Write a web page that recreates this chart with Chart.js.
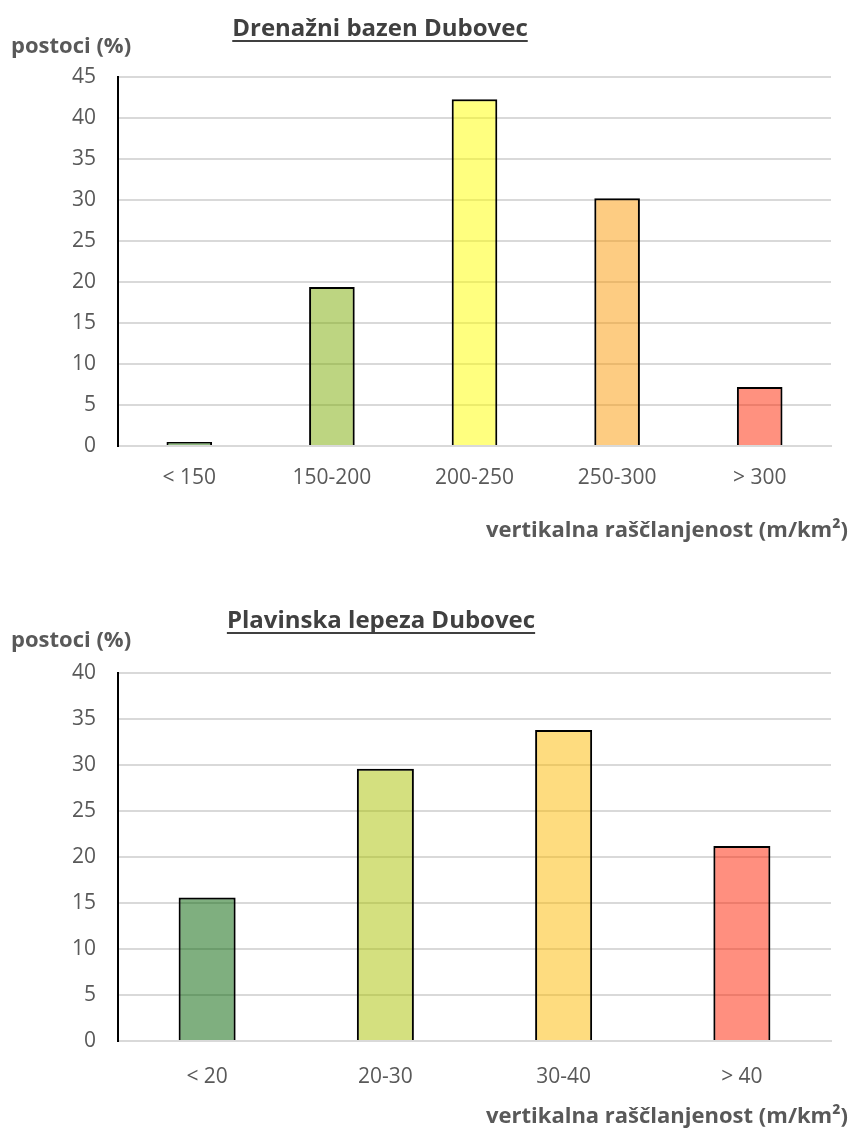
<!DOCTYPE html>
<html><head><meta charset="utf-8">
<script src="https://cdn.jsdelivr.net/npm/chart.js@4/dist/chart.umd.min.js"></script>
<style>
html,body{margin:0;padding:0;background:#fff;}
body{width:854px;height:1133px;position:relative;overflow:hidden;}
canvas{position:absolute;left:0;}
</style></head><body>
<canvas id="c1" width="854" height="570" style="top:0"></canvas>
<canvas id="c2" width="854" height="563" style="top:570px"></canvas>
<script>
// ---- data ----
const topTitle = 'Drenažni bazen Dubovec';
const topCategories = ['< 150', '150-200', '200-250', '250-300', '> 300'];
const topValues = [0.5, 19.4, 42.3, 30.2, 7.2];
const topColors = ['rgba(31,121,0,0.5)', 'rgba(123,171,3,0.5)', 'rgba(255,255,0,0.5)', 'rgba(251,153,5,0.5)', 'rgba(255,35,0,0.5)'];
const topYMax = 45;

const bottomTitle = 'Plavinska lepeza Dubovec';
const bottomCategories = ['< 20', '20-30', '30-40', '> 40'];
const bottomValues = [15.6, 29.6, 33.8, 21.2];
const bottomColors = ['rgba(0,95,0,0.5)', 'rgba(169,193,0,0.5)', 'rgba(253,185,0,0.5)', 'rgba(255,31,0,0.5)'];
const bottomYMax = 40;

const yStep = 5;
const yAxisTitle = 'postoci (%)';
const xAxisTitle = 'vertikalna raščlanjenost (m/km²)';

// ---- drawing ----
const textPlugin = {
  id: 'texts',
  afterDraw(chart, args, o) {
    const ctx = chart.ctx;
    ctx.save();
    // title
    ctx.font = 'bold 24px "Open Sans"';
    ctx.fillStyle = '#404040';
    ctx.textAlign = 'center';
    ctx.textBaseline = 'middle';
    ctx.fillText(o.title, o.titleX, o.titleY);
    const w = ctx.measureText(o.title).width;
    ctx.strokeStyle = '#404040';
    ctx.lineWidth = 2;
    ctx.beginPath();
    ctx.moveTo(o.titleX - w / 2, o.titleY + 12);
    ctx.lineTo(o.titleX + w / 2, o.titleY + 12);
    ctx.stroke();
    // y title
    ctx.font = 'bold 22px "Open Sans"';
    ctx.fillStyle = '#595959';
    ctx.textAlign = 'left';
    ctx.fillText(o.yTitle, o.yTitleX, o.yTitleY);
    // x title
    ctx.textAlign = 'right';
    ctx.fillText(o.xTitle, o.xTitleX, o.xTitleY);
    ctx.restore();
  }
};

function makeChart(id, cats, vals, colors, ymax, h, area, labelPad, texts) {
  return new Chart(document.getElementById(id), {
    type: 'bar',
    data: {
      labels: cats,
      datasets: [{
        data: vals,
        backgroundColor: colors,
        borderColor: '#000',
        borderWidth: 2,
        barPercentage: 0.32,
        categoryPercentage: 1
      }]
    },
    options: {
      responsive: false,
      animation: false,
      devicePixelRatio: 1,
      layout: { padding: { top: area.top, right: 854 - area.right, bottom: 0, left: 0 } },
      plugins: { legend: { display: false }, title: { display: false }, tooltip: { enabled: false }, texts: texts },
      scales: {
        x: {
          grid: { display: false, drawTicks: false },
          border: { display: true, color: '#D9D9D9', width: 2 },
          ticks: { color: '#595959', font: { family: 'Open Sans', size: 21 }, padding: labelPad, maxRotation: 0 },
          afterFit(s) { s.height = h - area.bottom; }
        },
        y: {
          min: 0, max: ymax,
          grid: { color: '#D9D9D9', lineWidth: 2, drawTicks: false },
          border: { display: true, color: '#000', width: 2 },
          ticks: { stepSize: yStep, color: '#595959', font: { family: 'Open Sans', size: 21 }, padding: 22 },
          afterFit(s) { s.width = area.left; }
        }
      }
    },
    plugins: [textPlugin]
  });
}

makeChart('c1', topCategories, topValues, topColors, topYMax, 570,
  { left: 118, top: 77, right: 831, bottom: 446 }, 19,
  { title: topTitle, titleX: 380, titleY: 29, yTitle: yAxisTitle, yTitleX: 11, yTitleY: 47, xTitle: xAxisTitle, xTitleX: 848, xTitleY: 531 });

makeChart('c2', bottomCategories, bottomValues, bottomColors, bottomYMax, 563,
  { left: 118, top: 103, right: 831, bottom: 471 }, 23,
  { title: bottomTitle, titleX: 381, titleY: 51, yTitle: yAxisTitle, yTitleX: 11, yTitleY: 71, xTitle: xAxisTitle, xTitleX: 848, xTitleY: 547 });
</script>
</body></html>
